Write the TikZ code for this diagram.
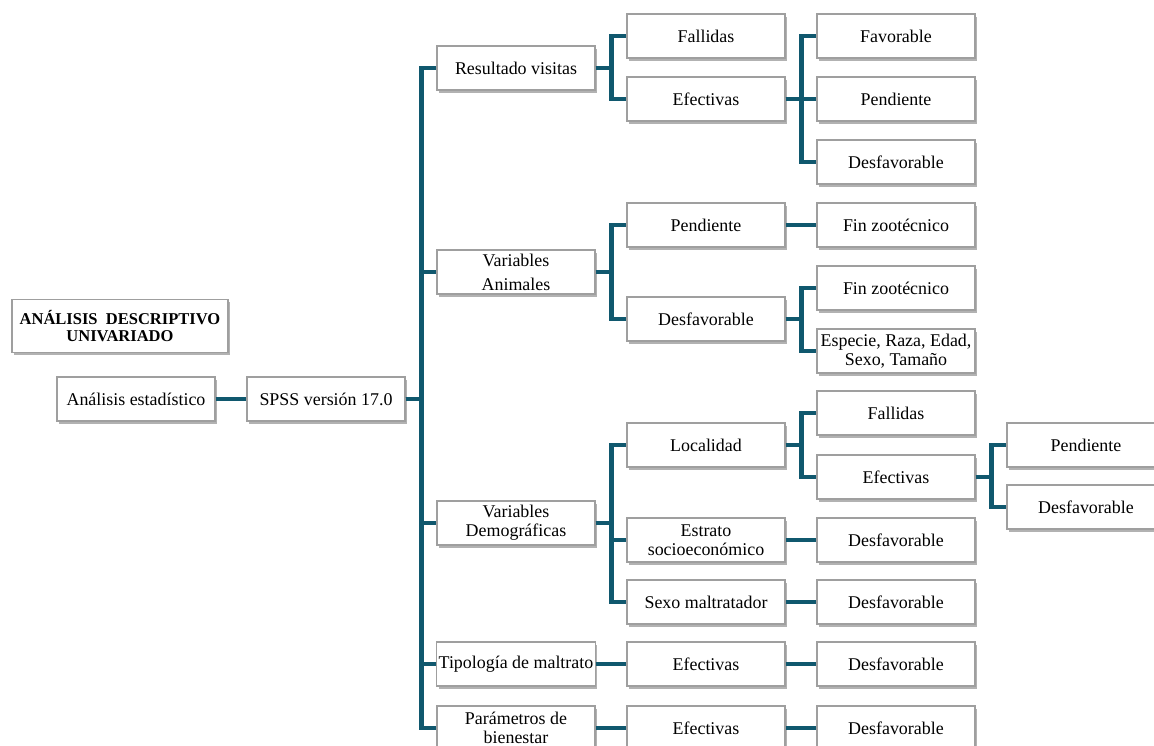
\documentclass[tikz,border=0pt]{standalone}
\usepackage{fontspec}
\setmainfont{Liberation Serif}
\usepackage{xcolor}
\usetikzlibrary{shadows}
\definecolor{azulpetroleo}{RGB}{16,88,110}
\newcommand{\cuadro}[4]{\node[cuadro] (#1) at (#2,#3) {#4}}
\newcommand{\rama}[2]{\draw[enlace] (#1.east) -- ++(16,0) |- (#2.west)}

\begin{document}
\begin{tikzpicture}[x=0.02cm,y=-0.02cm,
    cuadro/.style={draw=gray!75,line width=0.6pt,fill=white,minimum width=3.16cm,minimum height=0.88cm,
      inner sep=1pt,align=center,font=\fontsize{10.2}{10.6}\selectfont,
      drop shadow={shadow xshift=1.3pt,shadow yshift=-1.6pt,fill=black,opacity=0.3}},
    enlace/.style={draw=azulpetroleo,line width=2.3pt,line join=miter}]
    \useasboundingbox (0,0) rectangle (1154,746);

    \node[cuadro,minimum width=4.32cm,minimum height=1.06cm,font=\bfseries\fontsize{9.4}{10}\selectfont]
      (titulo) at (120,326) {ANÁLISIS\ \ DESCRIPTIVO\\UNIVARIADO};

    % raiz
    \cuadro{ae}{136}{399}{Análisis estadístico};
    \cuadro{spss}{326}{399}{SPSS versión 17.0};

    % segundo nivel
    \cuadro{rv}{516}{68}{Resultado visitas};
    \cuadro{va}{516}{272}{Variables\\[3pt]Animales};
    \cuadro{vd}{516}{523}{Variables\\Demográficas};
    \cuadro{tm}{516}{664}{Tipología de maltrato};
    \cuadro{pb}{516}{728}{Parámetros de\\bienestar};

    % resultado visitas
    \cuadro{rvfa}{706}{36}{Fallidas};
    \cuadro{rvef}{706}{99}{Efectivas};
    \cuadro{rvfav}{896}{36}{Favorable};
    \cuadro{rvpen}{896}{99}{Pendiente};
    \cuadro{rvdes}{896}{162}{Desfavorable};

    % variables animales
    \cuadro{vapen}{706}{225}{Pendiente};
    \cuadro{vades}{706}{319}{Desfavorable};
    \cuadro{vafin}{896}{225}{Fin zootécnico};
    \cuadro{vadfin}{896}{288}{Fin zootécnico};
    \cuadro{vaesp}{896}{351}{Especie, Raza, Edad,\\Sexo, Tamaño};

    % variables demograficas
    \cuadro{loc}{706}{445}{Localidad};
    \cuadro{est}{706}{540}{Estrato\\socioeconómico};
    \cuadro{sm}{706}{602}{Sexo maltratador};
    \cuadro{locfa}{896}{413}{Fallidas};
    \cuadro{locef}{896}{477}{Efectivas};
    \cuadro{estdes}{896}{540}{Desfavorable};
    \cuadro{smdes}{896}{602}{Desfavorable};
    \cuadro{locpen}{1086}{445}{Pendiente};
    \cuadro{locdes}{1086}{507}{Desfavorable};

    % tipologia y parametros
    \cuadro{tmef}{706}{664}{Efectivas};
    \cuadro{tmdes}{896}{664}{Desfavorable};
    \cuadro{pbef}{706}{728}{Efectivas};
    \cuadro{pbdes}{896}{728}{Desfavorable};

    \draw[enlace] (ae) -- (spss);
    \foreach \hijo in {rv,va,vd,tm,pb} {\rama{spss}{\hijo};}

    \rama{rv}{rvfa}; \rama{rv}{rvef};
    \rama{rvef}{rvfav}; \rama{rvef}{rvpen}; \rama{rvef}{rvdes};

    \rama{va}{vapen}; \rama{va}{vades};
    \rama{vapen}{vafin};
    \rama{vades}{vadfin}; \rama{vades}{vaesp};

    \rama{vd}{loc}; \rama{vd}{est}; \rama{vd}{sm};
    \rama{loc}{locfa}; \rama{loc}{locef};
    \rama{locef}{locpen}; \rama{locef}{locdes};
    \rama{est}{estdes};
    \rama{sm}{smdes};

    \rama{tm}{tmef}; \rama{tmef}{tmdes};
    \rama{pb}{pbef}; \rama{pbef}{pbdes};
  \end{tikzpicture}
\end{document}
